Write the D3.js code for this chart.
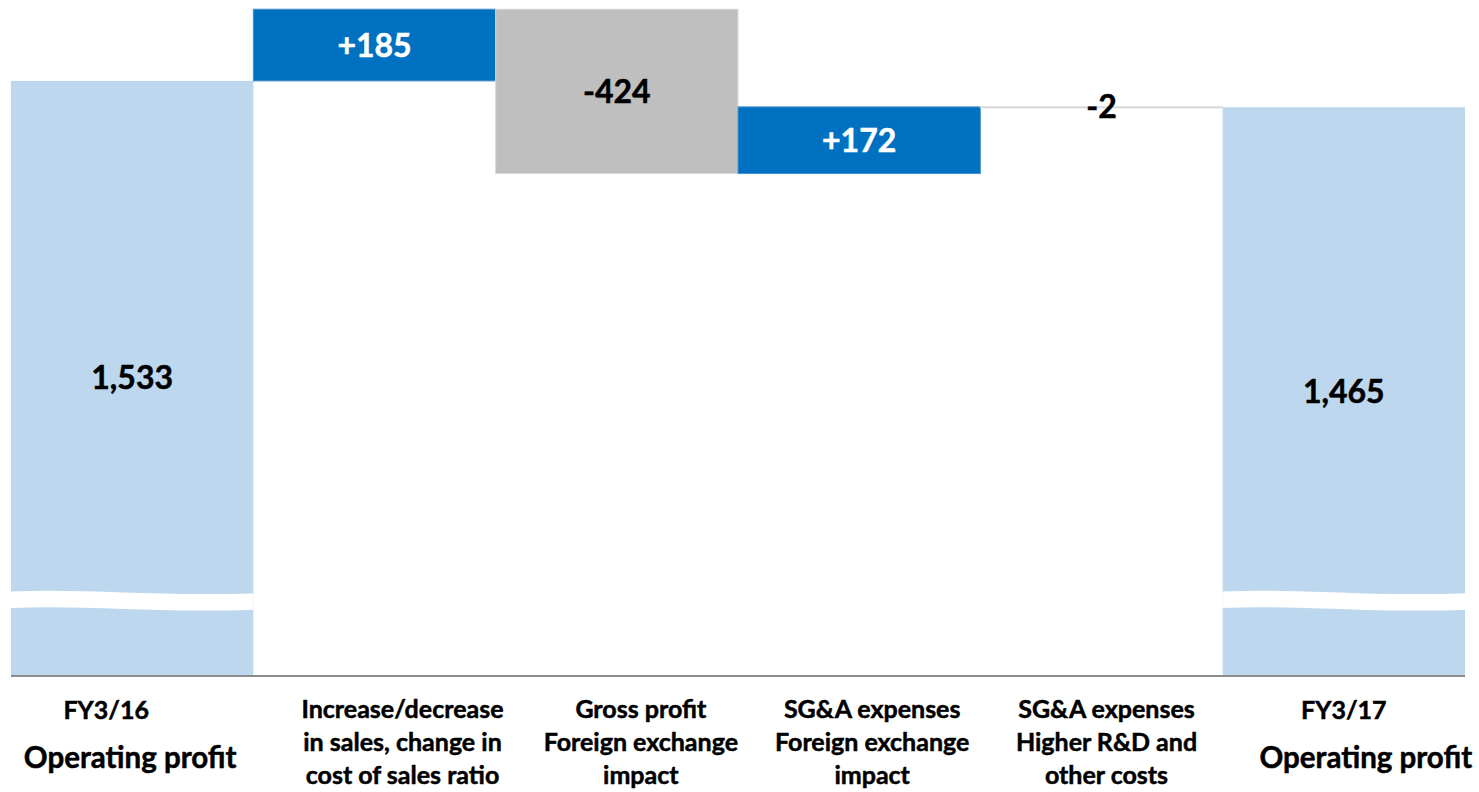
<!DOCTYPE html>
<html>
<head>
<meta charset="utf-8">
<script src="https://cdn.jsdelivr.net/npm/d3@7"></script>
<style>
  html, body { margin: 0; padding: 0; background: #fff; }
  svg { display: block; }
  text { font-family: Lato, "Open Sans", sans-serif; font-weight: 700; stroke-width: 0.5px; }
</style>
</head>
<body>
<svg id="chart" width="1479" height="792"></svg>
<script>
// ---- data ----
const categories = ["FY3/16", "Sales", "GP FX", "SGA FX", "SGA RD", "FY3/17"];
const kinds = ["total", "delta", "delta", "delta", "delta", "total"];
const values = [1533, 185, -424, 172, -2, 1465];
const labelLines = [
  ["FY3/16", "Operating profit"],
  ["Increase/decrease", "in sales, change in", "cost of sales ratio"],
  ["Gross profit", "Foreign exchange", "impact"],
  ["SG&A expenses", "Foreign exchange", "impact"],
  ["SG&A expenses", "Higher R&D and", "other costs"],
  ["FY3/17", "Operating profit"]
];
const axisBreakValue = 200;

// ---- layout ----
const svg = d3.select("#chart");
const x = d3.scaleBand().domain(categories).range([11, 1465]).paddingInner(0).paddingOuter(0);
const y = d3.scaleLinear().domain([0, 1716]).range([675, 10]);

// compute waterfall segments
let running = 0;
const bars = categories.map((c, i) => {
  let y0, y1;
  if (kinds[i] === "total") { y0 = 0; y1 = values[i]; running = values[i]; }
  else { y0 = running; y1 = running + values[i]; running = y1; }
  return { cat: c, i, v: values[i], kind: kinds[i], lo: Math.min(y0, y1), hi: Math.max(y0, y1) };
});

const fillFor = d => d.kind === "total" ? "#BDD7EE" : (d.v >= 0 ? "#0070C0" : "#BFBFBF");
const strokeFor = d => d.kind === "total" ? "none" : (d.v >= 0 ? "#4a90cf" : "#d9d9d9");

svg.append("g").selectAll("rect").data(bars).join("rect")
  .attr("x", d => x(d.cat))
  .attr("width", x.bandwidth())
  .attr("y", d => y(d.hi))
  .attr("height", d => Math.max(y(d.lo) - y(d.hi), 1))
  .attr("fill", fillFor)
  .attr("stroke", strokeFor)
  .attr("stroke-width", 1);

// axis break wave on total bars
const breakY = y(axisBreakValue);
bars.filter(d => d.kind === "total").forEach(d => {
  const x0 = x(d.cat), w = x.bandwidth(), x1 = x0 + w;
  const t0 = breakY - 6, t1 = breakY - 4.3;
  const th = 16.5;
  const p = d3.path();
  p.moveTo(x0, t0);
  p.bezierCurveTo(x0 + 0.3 * w, t0 - 3.5, x0 + 0.6 * w, t1 + 3.5, x1, t1);
  p.lineTo(x1, t1 + th);
  p.bezierCurveTo(x0 + 0.6 * w, t1 + th + 3.5, x0 + 0.3 * w, t0 + th - 3.5, x0, t0 + th);
  p.closePath();
  svg.append("path").attr("d", p.toString()).attr("fill", "#fff");
});

// baseline axis
svg.append("line")
  .attr("x1", x.range()[0]).attr("x2", x.range()[1])
  .attr("y1", y(0) + 1).attr("y2", y(0) + 1)
  .attr("stroke", "#8c8c8c").attr("stroke-width", 2);

// value labels
const fmtTotal = d3.format(",");
const fmtDelta = d3.format("+,");
svg.append("g").selectAll("text").data(bars).join("text")
  .attr("x", d => x(d.cat) + x.bandwidth() / 2)
  .attr("y", d => Math.abs(y(d.lo) - y(d.hi)) < 5 ? y(d.hi) : (y(d.lo) + y(d.hi)) / 2)
  .attr("dy", "0.36em")
  .attr("text-anchor", "middle")
  .attr("font-size", 32)
  .attr("fill", d => (d.kind === "delta" && d.v > 0) ? "#fff" : "#000")
  .attr("stroke", d => (d.kind === "delta" && d.v > 0) ? "#fff" : "#000")
  .text(d => d.kind === "total" ? fmtTotal(d.v) : (d.v > 0 ? fmtDelta(d.v) : "-" + Math.abs(d.v)));

// category labels
const labelDx = [[-26, -2], [28, 28, 28], [24, 24, 24], [13, 13, 13], [5, 5, 5], [0, 22]];
const g = svg.append("g").attr("fill", "#000").attr("stroke", "#000");
labelLines.forEach((lines, i) => {
  const cx = x(categories[i]) + x.bandwidth() / 2;
  if (lines.length === 2) {
    g.append("text").attr("x", cx + labelDx[i][0]).attr("y", 710).attr("dy", "0.36em")
      .attr("text-anchor", "middle").attr("font-size", 25).text(lines[0]);
    g.append("text").attr("x", cx + labelDx[i][1]).attr("y", 757).attr("dy", "0.36em")
      .attr("text-anchor", "middle").attr("font-size", 29.5).text(lines[1]);
  } else {
    lines.forEach((ln, j) => {
      g.append("text").attr("x", cx + labelDx[i][j]).attr("y", 709 + j * 33).attr("dy", "0.36em")
        .attr("text-anchor", "middle").attr("font-size", 25).text(ln);
    });
  }
});
</script>
</body>
</html>
